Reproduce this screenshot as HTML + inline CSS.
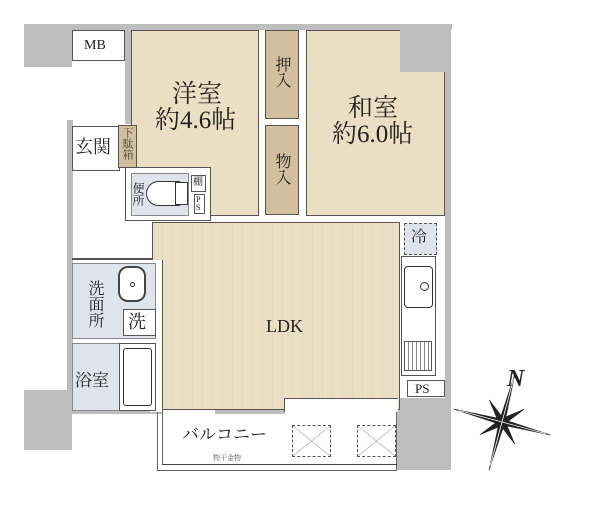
<!DOCTYPE html>
<html><head><meta charset="utf-8">
<style>
body{margin:0;background:#fff;width:600px;height:511px;overflow:hidden;position:relative;font-family:"Liberation Serif","Noto Serif CJK JP","Noto Sans CJK JP",serif;color:#222}
div{position:absolute;box-sizing:border-box}
.g{background:#bdbdbd}
.w{background:#fff;border:1.5px solid #555}
.t{background:#eadfc2}
.d{background:#d2bf9e;border:1.5px solid #555}
.b{background:#dfe3ec}
.tx{white-space:nowrap;line-height:1}
.v{writing-mode:vertical-rl;line-height:1}
</style></head><body>
<!-- walls -->
<div class="g" style="left:24px;top:24px;width:48px;height:43px"></div>
<div class="g" style="left:72px;top:24px;width:380px;height:6px"></div>
<div class="g" style="left:400px;top:24px;width:50px;height:48px"></div>
<div class="g" style="left:445px;top:24px;width:6px;height:446px"></div>
<div class="g" style="left:397px;top:398px;width:53px;height:72px"></div>
<div class="g" style="left:125px;top:24px;width:6px;height:100px"></div>
<div class="g" style="left:67px;top:120px;width:6px;height:292px"></div>
<div class="g" style="left:24px;top:390px;width:48px;height:60px"></div>
<div class="g" style="left:72px;top:408px;width:90px;height:6px"></div>
<div class="g" style="left:215px;top:408px;width:70px;height:6px"></div>
<!-- MB -->
<div class="w" style="left:72px;top:30px;width:53px;height:31px"></div>
<div class="tx" style="left:84px;top:39px;font-size:14px">MB</div>
<!-- Western room -->
<div class="t" style="left:131px;top:30px;width:128px;height:186px;border:1.5px solid #555"></div>
<div class="tx" style="left:172px;top:82px;font-size:25px">洋室</div>
<div class="tx" style="left:155px;top:108px;font-size:25px">約4.6帖</div>
<!-- closets -->
<div class="d" style="left:265px;top:30px;width:34px;height:89px"></div>
<div class="v" style="left:273px;top:56px;font-size:16px">押入</div>
<div class="d" style="left:265px;top:125px;width:34px;height:90px"></div>
<div class="v" style="left:273px;top:153px;font-size:16px">物入</div>
<!-- Japanese room -->
<div class="t" style="left:306px;top:30px;width:139px;height:186px;border:1.5px solid #555"></div>
<div class="g" style="left:400px;top:24px;width:50px;height:48px"></div>
<div class="tx" style="left:348px;top:96px;font-size:25px">和室</div>
<div class="tx" style="left:332px;top:122px;font-size:25px">約6.0帖</div>
<!-- genkan -->
<div class="w" style="left:72px;top:126px;width:48px;height:45px;border-width:1px"></div>
<div class="tx" style="left:75px;top:138px;font-size:18px">玄関</div>
<div class="d" style="left:118px;top:125px;width:19px;height:43px"></div>
<div class="v" style="left:121px;top:127px;font-size:11px;color:#444">下駄箱</div>
<!-- toilet -->
<div class="w" style="left:125px;top:167px;width:86px;height:54px"></div>
<div class="b" style="left:131px;top:173px;width:58px;height:43px;border:1px solid #888"></div>
<div class="v" style="left:132px;top:182px;font-size:12px">便所</div>
<div style="left:146px;top:181px;width:36px;height:25px;border:1.5px solid #333;border-radius:14px 4px 4px 14px;background:#fff"></div>
<div style="left:175px;top:182px;width:13px;height:23px;border:1.5px solid #333;background:#fff"></div>
<div class="w" style="left:191px;top:175px;width:15px;height:17px;border-width:1px"></div>
<div class="tx" style="left:193px;top:178px;font-size:10px">棚</div>
<div class="w" style="left:194px;top:194px;width:11px;height:20px;border-width:1px"></div>
<div class="tx" style="left:196px;top:196px;font-size:8px;line-height:8px">P<br>S</div>
<!-- corridor -->
<div class="tx" style="left:176px;top:232px;font-size:16px">廊下</div>
<div style="left:72px;top:258px;width:193px;height:2px;background:#555"></div>
<!-- LDK -->
<div class="t" style="left:152px;top:222px;width:248px;height:188px;border:1.5px solid #555;background:repeating-linear-gradient(90deg,#eadfc2 0 9px,#e4d8b9 9px 10px)"></div>
<div style="left:150px;top:260px;width:13px;height:152px;background:#fff;border-right:1.5px solid #555"></div>
<div style="left:284px;top:398px;width:114px;height:14px;background:#fff;border-top:1.5px solid #555;border-left:1.5px solid #555"></div>
<div class="tx" style="left:266px;top:317px;font-size:18px">LDK</div>
<!-- kitchen -->
<div class="b" style="left:404px;top:223px;width:33px;height:32px;border:1px dashed #555"></div>
<div class="tx" style="left:411px;top:230px;font-size:16px">冷</div>
<div class="w" style="left:401px;top:256px;width:35px;height:120px"></div>
<div style="left:404px;top:266px;width:29px;height:42px;border:1.5px solid #333;border-radius:4px"></div>
<div style="left:420px;top:282px;width:9px;height:9px;border:1px solid #333;border-radius:50%"></div>
<div style="left:404px;top:341px;width:28px;height:30px;border:1.5px solid #555;background:repeating-linear-gradient(90deg,#fff 0 3px,#888 3px 4px)"></div>
<div class="w" style="left:407px;top:380px;width:38px;height:17px;border-width:1px"></div>
<div class="tx" style="left:415px;top:382px;font-size:13px">PS</div>
<!-- washroom -->
<div class="b" style="left:72px;top:263px;width:84px;height:76px;border:1px solid #888"></div>
<div class="v" style="left:86px;top:280px;font-size:16px">洗面所</div>
<div style="left:118px;top:266px;width:28px;height:36px;border:2px solid #444;border-radius:10px;background:#fff"></div>
<div style="left:130px;top:282px;width:5px;height:5px;border:1px solid #333;border-radius:50%"></div>
<div class="w" style="left:123px;top:309px;width:33px;height:27px;border-width:1px"></div>
<div class="tx" style="left:128px;top:313px;font-size:18px">洗</div>
<!-- bath -->
<div class="b" style="left:72px;top:343px;width:48px;height:68px;border:1px solid #888"></div>
<div class="tx" style="left:75px;top:372px;font-size:17px">浴室</div>
<div class="w" style="left:119px;top:343px;width:37px;height:68px;border-width:1px"></div>
<div style="left:123px;top:348px;width:29px;height:58px;border:1.5px solid #333;border-radius:3px"></div>
<!-- balcony -->
<div style="left:157px;top:412px;width:240px;height:59px;border:1.5px solid #666;border-top:none"></div>
<div style="left:162px;top:412px;width:235px;height:53px;border-left:1px solid #666;border-bottom:1.5px solid #444"></div>
<div class="tx" style="left:182px;top:426px;font-size:17px">バルコニー</div>
<div class="tx" style="left:213px;top:455px;font-size:7px;color:#555">物干金物</div>
<div style="left:292px;top:425px;width:39px;height:32px;border:1px dashed #555;background:linear-gradient(to top right,transparent 49%,#888 50%,transparent 51%),linear-gradient(to bottom right,transparent 49%,#888 50%,transparent 51%)"></div>
<div style="left:357px;top:425px;width:39px;height:32px;border:1px dashed #555;background:linear-gradient(to top right,transparent 49%,#888 50%,transparent 51%),linear-gradient(to bottom right,transparent 49%,#888 50%,transparent 51%)"></div>
<!-- compass -->
<div class="tx" style="left:507px;top:367px;font-size:24px;font-style:italic;font-weight:bold">N</div>
<svg style="position:absolute;left:0;top:0" width="600" height="511">
<g transform="translate(502,422) rotate(15)" fill="#222" stroke="#222" stroke-width="0.6">
<polygon points="0,-50 2.5,-6 18,-18 6,-2.5 50,0 6,2.5 18,18 2.5,6 0,50 -2.5,6 -18,18 -6,2.5 -50,0 -6,-2.5 -18,-18 -2.5,-6"/>
<g stroke="#fff" stroke-width="0.8"><line x1="0" y1="0" x2="0" y2="-45"/><line x1="0" y1="0" x2="45" y2="0"/><line x1="0" y1="0" x2="0" y2="45"/><line x1="0" y1="0" x2="-45" y2="0"/></g>
</g></svg>
</body></html>
